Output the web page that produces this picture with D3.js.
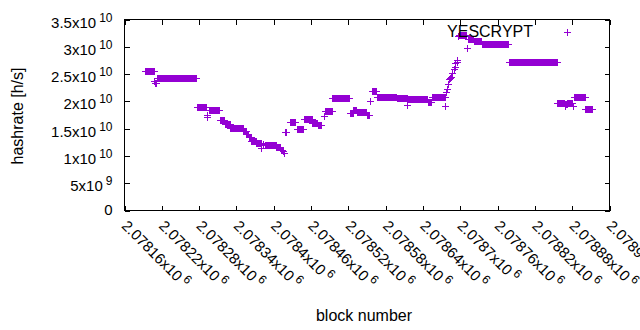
<!DOCTYPE html>
<html>
<head>
<meta charset="utf-8">
<script src="https://cdn.jsdelivr.net/npm/d3@7"></script>
<style>
body { margin: 0; background: #fff; }
text { font-family: "Liberation Sans", Arial, sans-serif; fill: #000; }
</style>
</head>
<body>
<svg width="640" height="330"></svg>
<script>
// runs of blocks sharing the same hashrate (values in units of 1e10 h/s)
var runStart = [2078193, 2078208, 2078209, 2078212, 2078276, 2078292, 2078293, 2078296, 2078313, 2078321,
                2078330, 2078351, 2078356, 2078360, 2078364, 2078372, 2078379, 2078382, 2078386, 2078404,
                2078411, 2078415, 2078416, 2078418, 2078426, 2078437, 2078448, 2078462, 2078471, 2078481,
                2078482, 2078494, 2078522, 2078528, 2078534, 2078550, 2078555, 2078558, 2078566, 2078598,
                2078615, 2078616, 2078648, 2078654, 2078676, 2078677, 2078679, 2078680, 2078682, 2078684,
                2078685, 2078687, 2078690, 2078691, 2078692, 2078694, 2078695, 2078697, 2078698, 2078711,
                2078712, 2078722, 2078735, 2078779, 2078856, 2078868, 2078869, 2078872, 2078881, 2078883,
                2078901]
var runEnd   = [2078207, 2078208, 2078210, 2078275, 2078291, 2078292, 2078293, 2078312, 2078320, 2078329,
                2078350, 2078355, 2078359, 2078363, 2078371, 2078380, 2078379, 2078382, 2078403, 2078410,
                2078414, 2078415, 2078416, 2078419, 2078434, 2078447, 2078461, 2078470, 2078476, 2078481,
                2078493, 2078521, 2078527, 2078533, 2078549, 2078554, 2078555, 2078564, 2078597, 2078614,
                2078615, 2078647, 2078653, 2078675, 2078676, 2078677, 2078679, 2078680, 2078682, 2078684,
                2078685, 2078687, 2078690, 2078691, 2078692, 2078694, 2078695, 2078697, 2078710, 2078711,
                2078721, 2078734, 2078776, 2078855, 2078867, 2078868, 2078871, 2078880, 2078881, 2078900,
                2078912]
var runValue = [2.560, 2.377, 2.330, 2.421, 1.891, 1.759, 1.713, 1.836, 1.659, 1.585,
                1.507, 1.452, 1.400, 1.350, 1.275, 1.233, 1.152, 1.220, 1.201, 1.156,
                1.110, 1.092, 1.050, 1.434, 1.616, 1.494, 1.677, 1.609, 1.570, 1.732,
                1.818, 2.055, 1.781, 1.836, 1.805, 1.750, 2.011, 2.194, 2.074, 2.055,
                1.933, 2.037, 1.993, 2.074, 1.909, 2.176, 2.220, 2.311, 2.403, 2.421,
                2.450, 2.523, 2.586, 2.622, 2.695, 2.725, 2.756, 3.200, 3.207, 2.970,
                3.149, 3.098, 3.043, 2.725, 1.979, 1.915, 1.951, 1.975, 1.924, 2.074,
                1.869]

var xTicks = [2078160, 2078220, 2078280, 2078340, 2078400, 2078460, 2078520,
              2078580, 2078640, 2078700, 2078760, 2078820, 2078880, 2078940]
var xTickText = ['2.07816', '2.07822', '2.07828', '2.07834', '2.0784', '2.07846', '2.07852',
                 '2.07858', '2.07864', '2.0787', '2.07876', '2.07882', '2.07888', '2.07894']
var yTicks = [0, 5e9, 1e10, 1.5e10, 2e10, 2.5e10, 3e10, 3.5e10]
var yTickText = ['0', '5', '1', '1.5', '2', '2.5', '3', '3.5']
var yTickExp = ['', '9', '10', '10', '10', '10', '10', '10']

var color = '#9400d3'
var L = 124.5, R = 609.5, T = 19.5, B = 210.5

var x = d3.scaleLinear().domain([2078160, 2078940]).range([L, R])
var y = d3.scaleLinear().domain([0, 3.5e10]).range([B, T])

var svg = d3.select('svg')

// ticks (inward, mirrored like gnuplot)
function noLabel(a) { return a.tickFormat('').tickSizeOuter(0).tickSize(-5) }
svg.append('g').attr('transform', 'translate(0,' + B + ')').call(noLabel(d3.axisBottom(x).tickValues(xTicks)))
svg.append('g').attr('transform', 'translate(0,' + T + ')').call(noLabel(d3.axisTop(x).tickValues(xTicks)))
svg.append('g').attr('transform', 'translate(' + L + ',0)').call(noLabel(d3.axisLeft(y).tickValues(yTicks)))
svg.append('g').attr('transform', 'translate(' + R + ',0)').call(noLabel(d3.axisRight(y).tickValues(yTicks)))
svg.selectAll('g .domain').remove()
svg.selectAll('g line').attr('stroke', '#000').attr('shape-rendering', 'crispEdges')

svg.append('rect').attr('x', L).attr('y', T).attr('width', R - L).attr('height', B - T)
  .attr('fill', 'none').attr('stroke', '#000').attr('shape-rendering', 'crispEdges')

// y tick labels
var yl = svg.append('g').selectAll('text').data(yTicks).enter().append('text')
  .attr('x', 112.5)
  .attr('y', function (d, i) { return y(d) + (yTickExp[i] ? 8 : 4.5) })
  .attr('text-anchor', 'end')
  .style('font-size', '15px')
yl.append('tspan').text(function (d, i) { return yTickText[i] + (yTickExp[i] ? 'x10' : '') })
yl.append('tspan').attr('dx', 3).attr('dy', -6).style('font-size', '12px')
  .text(function (d, i) { return yTickExp[i] })

// x tick labels, rotated
var xl = svg.append('g').selectAll('text').data(xTicks).enter().append('text')
  .attr('transform', function (d) { return 'translate(' + x(d) + ',223) rotate(45)' })
  .attr('dy', '0.35em')
  .style('font-size', '15px')
xl.append('tspan').text(function (d, i) { return xTickText[i] + 'x10' })
xl.append('tspan').attr('dx', 3).attr('dy', -6).style('font-size', '12px').text('6')

// axis titles
svg.append('text').attr('x', 364).attr('y', 321).attr('text-anchor', 'middle')
  .style('font-size', '16px').text('block number')
svg.append('text').attr('transform', 'translate(23,116) rotate(-90)').attr('text-anchor', 'middle')
  .style('font-size', '16px').text('hashrate [h/s]')

// points
var pts = []
runStart.forEach(function (s, i) {
  for (var b = s; b <= runEnd[i]; b++) pts.push([b, runValue[i] * 1e10])
})

function plus(cx, cy) {
  cx = Math.round(cx); cy = Math.round(cy)
  return 'M' + (cx - 3) + ',' + (cy + 0.5) + 'h7M' + (cx + 0.5) + ',' + (cy - 3) + 'v7'
}

svg.append('g').selectAll('path').data(pts).enter().append('path')
  .attr('d', function (d) { return plus(x(d[0]), y(d[1])) })
  .attr('stroke', color).attr('fill', 'none').attr('shape-rendering', 'crispEdges')

// key
svg.append('text').attr('x', 533).attr('y', 37).attr('text-anchor', 'end')
  .style('font-size', '16px').text('YESCRYPT')
svg.append('path').attr('d', plus(567, 32)).attr('stroke', color).attr('shape-rendering', 'crispEdges')
</script>
</body>
</html>
